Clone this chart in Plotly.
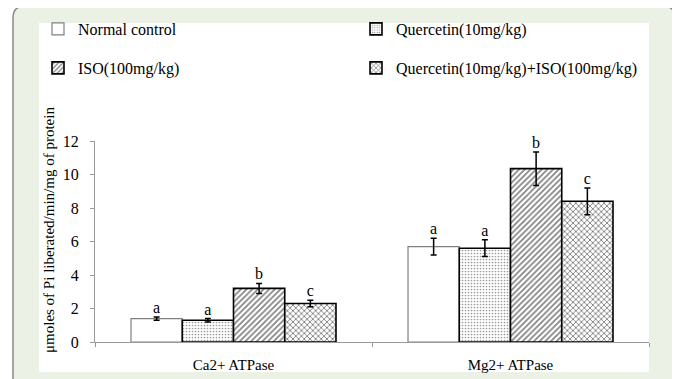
import plotly.graph_objects as go

categories = ["Ca2+ ATPase", "Mg2+ ATPase"]
series_names = ["Normal control", "Quercetin(10mg/kg)", "ISO(100mg/kg)",
                "Quercetin(10mg/kg)+ISO(100mg/kg)"]
normal_vals = [1.4, 5.7]
normal_err = [0.1, 0.5]
quercetin_vals = [1.3, 5.6]
quercetin_err = [0.1, 0.5]
iso_vals = [3.2, 10.35]
iso_err = [0.3, 1.0]
combo_vals = [2.3, 8.4]
combo_err = [0.2, 0.8]
letters_normal = ["a", "a"]
letters_quercetin = ["a", "a"]
letters_iso = ["b", "b"]
letters_combo = ["c", "c"]
yticks = [0, 2, 4, 6, 8, 10, 12]

FONT = "Liberation Serif"
W, H = 680, 379
OFF = 8  # page body margin
L, R, T, B = 95 - OFF, 649 - OFF, 141 - OFF, 342 - OFF


def px(x):
    return (x - OFF - L) / (R - L)


def py(y):
    return (B - (y - OFF)) / (B - T)


vals = [normal_vals, quercetin_vals, iso_vals, combo_vals]
errs = [normal_err, quercetin_err, iso_err, combo_err]
letters = [letters_normal, letters_quercetin, letters_iso, letters_combo]
patterns = [dict(shape=""),
            dict(shape=".", size=3, solidity=0.25, fgcolor="#333", bgcolor="#fff"),
            dict(shape="/", size=4, solidity=0.4, fgcolor="#000", bgcolor="#fff"),
            dict(shape="x", size=4, solidity=0.4, fgcolor="#000", bgcolor="#fff")]
line_colors = ["#808080", "#000", "#000", "#000"]
line_widths = [1.2, 1.6, 1.6, 1.6]
legend_ids = ["legend", "legend2", "legend3", "legend4"]

fig = go.Figure()
for i in range(4):
    fig.add_trace(go.Bar(
        x=categories, y=vals[i], name=series_names[i],
        offsetgroup=str(i), legend=legend_ids[i],
        marker=dict(color="white", pattern=patterns[i],
                    line=dict(color=line_colors[i], width=line_widths[i])),
        error_y=dict(type="data", array=errs[i], color="#000",
                     thickness=1.5, width=3),
    ))
for i in range(4):
    fig.add_trace(go.Scatter(
        x=categories, y=[v + e for v, e in zip(vals[i], errs[i])],
        mode="text", text=letters[i], textposition="top center",
        textfont=dict(family=FONT, size=16, color="#000"),
        offsetgroup=str(i), showlegend=False, hoverinfo="skip",
        cliponaxis=False,
    ))

# background frame
shapes = [
    dict(type="path", xref="paper", yref="paper", layer="below",
         path=(f"M {px(13)},{py(395)} L {px(13)},{py(18)} "
               f"Q {px(13)},{py(6)} {px(25)},{py(6)} "
               f"L {px(663)},{py(6)} Q {px(675)},{py(6)} {px(675)},{py(18)} "
               f"L {px(675)},{py(395)} Z"),
         fillcolor="#EBF1E5", line=dict(color="#8a8a8a", width=1.5)),
    dict(type="line", xref="paper", yref="paper", layer="below",
         x0=px(675), x1=px(675), y0=py(18), y1=py(395),
         line=dict(color="#777", width=2)),
    dict(type="rect", xref="paper", yref="paper", layer="below",
         x0=px(39), x1=px(649), y0=py(372), y1=py(23),
         fillcolor="white", line=dict(width=0)),
]

legend_pos = [(38, 29), (356, 29), (38, 68), (356, 68)]
legend_layout = {}
for lid, (lx, ly) in zip(legend_ids, legend_pos):
    legend_layout[lid] = dict(
        x=px(lx), y=py(ly), xanchor="left", yanchor="middle",
        bgcolor="rgba(0,0,0,0)", borderwidth=0,
        font=dict(family=FONT, size=16, color="#000"),
        itemwidth=30,
    )

fig.update_layout(
    width=W, height=H,
    margin=dict(l=L, r=W - R, t=T, b=H - B, autoexpand=False),
    paper_bgcolor="white", plot_bgcolor="rgba(0,0,0,0)",
    barmode="group", bargap=0.26, bargroupgap=0,
    scattermode="group", scattergap=0.26,
    shapes=shapes,
    showlegend=True,
    font=dict(family=FONT, size=15, color="#000"),
    xaxis=dict(showline=True, linecolor="#9a9a9a", linewidth=1,
               ticks="outside", tickson="boundaries", ticklen=4,
               tickcolor="#9a9a9a", showgrid=False, zeroline=False,
               tickfont=dict(family=FONT, size=15, color="#000"),
               ticklabelstandoff=9),
    yaxis=dict(range=[0, 12], tickvals=yticks, showline=True,
               linecolor="#9a9a9a", linewidth=1, ticks="outside",
               ticklen=4, tickcolor="#9a9a9a", showgrid=False,
               zeroline=False, ticklabelstandoff=8,
               tickfont=dict(family=FONT, size=16, color="#000")),
    annotations=[dict(text="μmoles of Pi liberated/min/mg of protein",
                      xref="paper", yref="paper", x=px(49), y=py(230),
                      xanchor="center", yanchor="middle",
                      textangle=-90, showarrow=False,
                      font=dict(family=FONT, size=15, color="#000"))],
    **legend_layout,
)

fig.write_html("out.html")
